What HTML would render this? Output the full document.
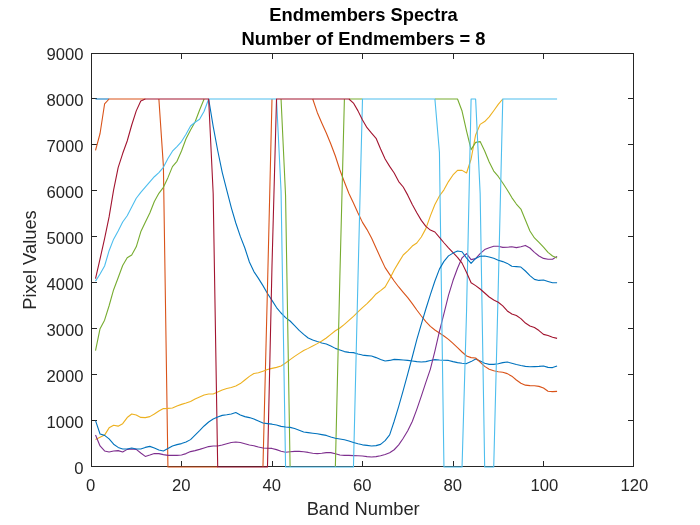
<!DOCTYPE html>
<html lang="en"><head><meta charset="utf-8"><title>Endmembers Spectra</title>
<style>html,body{margin:0;padding:0;background:#fff;overflow:hidden}svg{display:block;will-change:transform}</style>
</head><body>
<svg width="700" height="525" viewBox="0 0 700 525">
<rect x="0" y="0" width="700" height="525" fill="#ffffff"/>
<g fill="none" stroke="#262626" stroke-width="1" shape-rendering="crispEdges">
<rect x="91.5" y="53.5" width="542.0" height="413.0"/>
<path d="M91.5,466.5v-5.4M91.5,53.5v5.4M181.5,466.5v-5.4M181.5,53.5v5.4M272.5,466.5v-5.4M272.5,53.5v5.4M362.5,466.5v-5.4M362.5,53.5v5.4M453.5,466.5v-5.4M453.5,53.5v5.4M543.5,466.5v-5.4M543.5,53.5v5.4M633.5,466.5v-5.4M633.5,53.5v5.4M91.5,466.5h5.4M633.5,466.5h-5.4M91.5,420.5h5.4M633.5,420.5h-5.4M91.5,374.5h5.4M633.5,374.5h-5.4M91.5,328.5h5.4M633.5,328.5h-5.4M91.5,282.5h5.4M633.5,282.5h-5.4M91.5,236.5h5.4M633.5,236.5h-5.4M91.5,190.5h5.4M633.5,190.5h-5.4M91.5,144.5h5.4M633.5,144.5h-5.4M91.5,98.5h5.4M633.5,98.5h-5.4M91.5,53.5h5.4M633.5,53.5h-5.4"/>
</g>
<g fill="none" stroke-linejoin="round" stroke-linecap="butt" stroke-width="1.1">
<path stroke="#0072BD" d="M95.53,99.00L100.05,99.00L104.58,99.00L109.10,99.00M208.65,99.00L213.18,126.37L217.70,150.52L222.22,172.37L226.75,190.08L231.28,207.61L235.80,223.02L240.32,236.40L244.85,247.99L249.38,261.98L253.90,271.59L258.43,278.40L262.95,285.62L267.48,293.49L272.00,300.39L276.52,307.56L281.05,312.99L285.57,317.59L290.10,321.00L294.62,325.60L299.15,330.38L303.68,334.38L308.20,338.02L312.73,339.99L317.25,341.60L321.77,343.03L326.30,344.00L330.82,345.97L335.35,348.37L339.88,349.98L344.40,351.59L348.93,352.37L353.45,352.60L357.98,353.98L362.50,355.08L367.02,355.59L371.55,356.00L376.07,357.61L380.60,359.59L385.12,361.02L389.65,360.42L394.18,359.41L398.70,359.59L403.23,360.00L407.75,360.42L412.27,361.02L416.80,361.61L421.32,362.03L425.85,361.61L430.38,360.42L434.90,359.59L439.43,360.00L443.95,360.23L448.48,360.42L453.00,361.61L457.52,362.63L462.05,363.22L466.57,363.59L471.10,361.61L475.62,358.99L480.15,361.02L484.68,363.22L489.20,364.37L493.73,364.37L498.25,363.78L502.77,362.63L507.30,362.03L511.82,363.22L516.35,364.56L520.88,365.57L525.40,366.40L529.92,366.77L534.45,366.58L538.98,366.40L543.50,365.98L548.02,367.36L552.55,367.59L557.08,365.98"/>
<path stroke="#D95319" d="M95.53,150.43L100.05,133.50L104.58,103.97L109.10,99.00L113.62,99.00L118.15,99.00L122.67,99.00L127.20,99.00L131.72,99.00L136.25,99.00L140.78,99.00L145.30,99.00M158.88,99.00L163.40,166.16L167.93,467.00L172.45,467.00L176.97,467.00L181.50,467.00L186.03,467.00L190.55,467.00L195.07,467.00L199.60,467.00L204.12,467.00L208.65,467.00L213.18,467.00L217.70,467.00M262.95,467.00L267.48,287.51L272.00,99.00M312.73,99.00L317.25,112.43L321.77,123.01L326.30,133.04L330.82,143.99L335.35,155.99L339.88,170.02L344.40,181.98L348.93,193.44L353.45,203.01L357.98,212.99L362.50,222.37L367.02,229.59L371.55,238.01L376.07,247.99L380.60,257.98L385.12,267.64L389.65,274.40L394.18,281.02L398.70,286.96L403.23,292.38L407.75,297.63L412.27,303.61L416.80,310.00L421.32,315.98L425.85,321.59L430.38,326.38L434.90,329.97L439.43,333.00L443.95,335.99L448.48,339.40L453.00,343.40L457.52,347.58L462.05,352.00L466.57,356.00L471.10,357.61L475.62,358.03L480.15,362.03L484.68,366.40L489.20,369.20L493.73,370.81L498.25,371.78L502.77,372.19L507.30,373.62L511.82,376.20L516.35,380.01L520.88,383.19L525.40,385.17L529.92,385.58L534.45,385.76L538.98,386.36L543.50,387.97L548.02,391.19L552.55,391.61L557.08,391.38"/>
<path stroke="#EDB120" d="M95.53,439.40L100.05,437.28L104.58,435.12L109.10,427.85L113.62,425.28L118.15,426.15L122.67,423.67L127.20,417.55L131.72,414.01L136.25,415.02L140.78,417.41L145.30,417.60L149.82,416.63L154.35,414.01L158.88,411.02L163.40,408.58L167.93,408.40L172.45,407.98L176.97,406.00L181.50,404.39L186.03,402.97L190.55,401.40L195.07,399.01L199.60,396.99L204.12,395.01L208.65,394.00L213.18,394.00L217.70,392.02L222.22,390.00L226.75,388.48L231.28,387.56L235.80,385.99L240.32,383.56L244.85,380.01L249.38,376.38L253.90,373.57L258.43,372.79L262.95,371.18L267.48,369.57L272.00,368.38L276.52,367.36L281.05,365.98L285.57,362.99L290.10,359.59L294.62,356.37L299.15,353.38L303.68,350.57L308.20,348.37L312.73,345.97L317.25,343.63L321.77,341.01L326.30,338.02L330.82,334.38L335.35,330.79L339.88,327.99L344.40,324.40L348.93,320.40L353.45,316.40L357.98,311.98L362.50,307.56L367.02,303.61L371.55,299.01L376.07,293.99L380.60,290.59L385.12,286.96L389.65,279.00L394.18,269.98L398.70,262.39L403.23,254.99L407.75,250.80L412.27,246.02L416.80,242.98L421.32,237.00L425.85,228.63L430.38,215.84L434.90,204.57L439.43,195.97L443.95,189.80L448.48,181.57L453.00,174.95L457.52,170.39L462.05,170.39L466.57,172.97L471.10,158.98L475.62,134.97L480.15,124.35L484.68,121.59L489.20,116.85L493.73,110.73L498.25,104.43L502.77,99.00"/>
<path stroke="#7E2F8E" d="M95.53,435.03L100.05,445.98L104.58,450.99L109.10,452.00L113.62,450.99L118.15,450.62L122.67,452.00L127.20,449.38L131.72,449.01L136.25,449.38L140.78,453.02L145.30,456.42L149.82,454.99L154.35,453.43L158.88,453.61L163.40,454.63L167.93,455.41L172.45,455.41L176.97,455.41L181.50,454.99L186.03,453.61L190.55,451.59L195.07,450.62L199.60,449.38L204.12,448.00L208.65,446.58L213.18,445.98L217.70,445.98L222.22,445.01L226.75,443.77L231.28,442.57L235.80,441.98L240.32,442.57L244.85,443.77L249.38,445.01L253.90,445.79L258.43,446.99L262.95,448.00L267.48,448.19L272.00,448.42L276.52,449.61L281.05,451.22L285.57,452.19L290.10,451.82L294.62,451.41L299.15,451.41L303.68,451.82L308.20,452.42L312.73,453.20L317.25,453.61L321.77,453.20L326.30,452.60L330.82,452.60L335.35,453.80L339.88,454.99L344.40,455.41L348.93,455.41L353.45,455.59L357.98,455.82L362.50,456.01L367.02,456.60L371.55,457.02L376.07,456.60L380.60,455.82L385.12,454.40L389.65,452.69L394.18,449.75L398.70,444.92L403.23,438.25L407.75,430.66L412.27,421.46L416.80,409.32L421.32,396.16L425.85,382.45L430.38,369.11L434.90,351.13L439.43,331.30L443.95,313.73L448.48,295.42L453.00,280.56L457.52,268.23L462.05,257.79L466.57,253.56L471.10,259.63L475.62,258.62L480.15,253.56L484.68,249.56L489.20,247.72L493.73,246.25L498.25,246.25L502.77,247.40L507.30,247.21L511.82,246.80L516.35,247.63L520.88,246.80L525.40,245.42L529.92,247.99L534.45,252.36L538.98,256.00L543.50,258.39L548.02,259.22L552.55,259.22L557.08,256.37"/>
<path stroke="#77AC30" d="M95.53,350.57L100.05,328.72L104.58,320.17L109.10,305.77L113.62,289.72L118.15,277.71L122.67,265.52L127.20,257.84L131.72,254.99L136.25,246.84L140.78,231.85L145.30,222.28L149.82,212.99L154.35,201.44L158.88,193.30L163.40,187.32L167.93,177.66L172.45,166.62L176.97,161.33L181.50,150.98L186.03,138.79L190.55,130.05L195.07,122.00L199.60,110.04L204.12,99.00M281.05,99.00L285.57,195.74L290.10,467.00M335.35,467.00L339.88,276.51L344.40,99.00M348.93,99.00L353.45,99.00L357.98,99.00L362.50,99.00M434.90,99.00L439.43,99.00L443.95,99.00L448.48,99.00L453.00,99.00L457.52,99.00L462.05,111.01L466.57,131.02L471.10,149.60L475.62,142.38L480.15,141.60L484.68,151.03L489.20,161.97L493.73,171.04L498.25,176.46L502.77,183.00L507.30,189.99L511.82,197.58L516.35,204.02L520.88,209.03L525.40,219.98L529.92,230.97L534.45,237.97L538.98,242.38L543.50,247.03L548.02,252.36L552.55,256.00L557.08,257.98"/>
<path stroke="#4DBEEE" d="M95.53,281.11L100.05,274.03L104.58,265.98L109.10,250.71L113.62,239.16L118.15,231.02L122.67,222.00L127.20,215.75L131.72,207.01L136.25,198.27L140.78,192.38L145.30,187.09L149.82,181.80L154.35,176.74L158.88,172.60L163.40,167.31L167.93,158.57L172.45,151.21L176.97,146.61L181.50,141.55L186.03,134.33L190.55,126.00L195.07,122.23L199.60,119.24L204.12,111.19L208.65,99.00L213.18,99.00L217.70,99.00L222.22,99.00L226.75,99.00L231.28,99.00L235.80,99.00L240.32,99.00L244.85,99.00L249.38,99.00L253.90,99.00L258.43,99.00L262.95,99.00L267.48,99.00L272.00,99.00L276.52,99.00L281.05,191.18L285.57,467.00L290.10,467.00L294.62,467.00L299.15,467.00L303.68,467.00L308.20,467.00L312.73,467.00L317.25,467.00L321.77,467.00L326.30,467.00L330.82,467.00L335.35,467.00L339.88,467.00L344.40,467.00L348.93,467.00L353.45,467.00L357.98,278.35L362.50,99.00L367.02,99.00L371.55,99.00L376.07,99.00L380.60,99.00L385.12,99.00L389.65,99.00L394.18,99.00L398.70,99.00L403.23,99.00L407.75,99.00L412.27,99.00L416.80,99.00L421.32,99.00L425.85,99.00L430.38,99.00L434.90,99.00L439.43,152.18L443.95,467.00L448.48,467.00L453.00,467.00L457.52,467.00L462.05,467.00L466.57,310.46L471.10,99.00L475.62,99.00L480.15,193.44L484.68,467.00L489.20,467.00L493.73,467.00L498.25,287.51L502.77,99.00L507.30,99.00L511.82,99.00L516.35,99.00L520.88,99.00L525.40,99.00L529.92,99.00L534.45,99.00L538.98,99.00L543.50,99.00L548.02,99.00L552.55,99.00L557.08,99.00"/>
<path stroke="#A2142F" d="M95.53,278.58L100.05,258.90L104.58,238.70L109.10,216.90L113.62,189.90L118.15,167.59L122.67,153.56L127.20,141.00L131.72,124.99L136.25,110.87L140.78,100.98L145.30,99.00L149.82,99.00L154.35,99.00L158.88,99.00L163.40,99.00L167.93,99.00L172.45,99.00L176.97,99.00L181.50,99.00L186.03,99.00L190.55,99.00L195.07,99.00L199.60,99.00L204.12,99.00L208.65,99.00L213.18,193.44L217.70,467.00L222.22,467.00L226.75,467.00L231.28,467.00L235.80,467.00L240.32,467.00L244.85,467.00L249.38,467.00L253.90,467.00L258.43,467.00L262.95,467.00L267.48,467.00L272.00,265.52L276.52,99.00L281.05,99.00L285.57,99.00L290.10,99.00L294.62,99.00L299.15,99.00L303.68,99.00L308.20,99.00L312.73,99.00L317.25,99.00L321.77,99.00L326.30,99.00L330.82,99.00L335.35,99.00L339.88,99.00L344.40,99.00L348.93,99.00L353.45,103.09L357.98,110.87L362.50,120.02L367.02,127.66L371.55,133.13L376.07,138.28L380.60,149.00L385.12,158.98L389.65,166.39L394.18,172.97L398.70,181.57L403.23,187.00L407.75,195.14L412.27,204.39L416.80,212.71L421.32,220.39L425.85,226.42L430.38,230.10L434.90,231.99L439.43,237.37L443.95,242.75L448.48,247.81L453.00,252.55L457.52,257.29L462.05,263.13L466.57,272.51L471.10,282.72L475.62,285.62L480.15,288.98L484.68,292.98L489.20,296.98L493.73,300.02L498.25,302.23L502.77,305.95L507.30,310.97L511.82,314.00L516.35,315.57L520.88,318.60L525.40,323.02L529.92,325.96L534.45,327.57L538.98,330.56L543.50,334.38L548.02,335.58L552.55,337.19L557.08,338.38"/>
<path stroke="#0072BD" d="M95.53,420.63L100.05,434.02L104.58,435.40L109.10,438.94L113.62,444.23L118.15,447.40L122.67,449.01L127.20,449.01L131.72,448.00L136.25,449.01L140.78,449.01L145.30,447.40L149.82,446.39L154.35,448.00L158.88,449.98L163.40,450.99L167.93,448.60L172.45,445.98L176.97,444.60L181.50,443.59L186.03,441.98L190.55,439.63L195.07,435.03L199.60,430.61L204.12,425.97L208.65,421.97L213.18,419.02L217.70,417.00L222.22,415.39L226.75,414.79L231.28,414.01L235.80,412.58L240.32,415.02L244.85,416.63L249.38,417.60L253.90,419.02L258.43,421.00L262.95,422.98L267.48,423.58L272.00,424.17L276.52,425.00L281.05,426.38L285.57,426.98L290.10,427.39L294.62,428.59L299.15,430.20L303.68,431.99L308.20,432.59L312.73,433.19L317.25,433.79L321.77,434.62L326.30,435.40L330.82,437.01L335.35,438.20L339.88,439.03L344.40,439.77L348.93,440.96L353.45,442.57L357.98,443.77L362.50,444.83L367.02,445.38L371.55,445.98L376.07,445.61L380.60,444.37L385.12,440.60L389.65,434.80L394.18,421.28L398.70,406.42L403.23,390.41L407.75,373.90L412.27,357.01L416.80,339.63L421.32,324.03L425.85,308.99L430.38,294.64L434.90,281.02L439.43,269.15L443.95,261.38L448.48,255.86L453.00,253.10L457.52,250.98L462.05,251.72L466.57,258.11L471.10,263.45L475.62,258.39L480.15,256.18L484.68,256.00L489.20,256.92L493.73,258.34L498.25,260.23L502.77,261.61L507.30,263.40L511.82,266.21L516.35,266.62L520.88,267.04L525.40,270.99L529.92,275.59L534.45,279.41L538.98,280.42L543.50,280.01L548.02,281.44L552.55,282.82L557.08,282.82"/>
</g>
<g font-family="'Liberation Sans', Arial, Helvetica, sans-serif" font-size="16.67" fill="#262626">
<text x="90.6" y="490.9" text-anchor="middle">0</text>
<text x="181.2" y="490.9" text-anchor="middle">20</text>
<text x="271.7" y="490.9" text-anchor="middle">40</text>
<text x="362.2" y="490.9" text-anchor="middle">60</text>
<text x="452.7" y="490.9" text-anchor="middle">80</text>
<text x="544.4" y="490.9" text-anchor="middle">100</text>
<text x="634.5" y="490.9" text-anchor="middle">120</text>
<text x="83.6" y="473.6" text-anchor="end">0</text>
<text x="83.6" y="427.6" text-anchor="end">1000</text>
<text x="83.6" y="381.6" text-anchor="end">2000</text>
<text x="83.6" y="335.6" text-anchor="end">3000</text>
<text x="83.6" y="289.6" text-anchor="end">4000</text>
<text x="83.6" y="243.6" text-anchor="end">5000</text>
<text x="83.6" y="197.6" text-anchor="end">6000</text>
<text x="83.6" y="151.6" text-anchor="end">7000</text>
<text x="83.6" y="105.6" text-anchor="end">8000</text>
<text x="83.6" y="59.6" text-anchor="end">9000</text>
</g>
<text font-family="'Liberation Sans', Arial, Helvetica, sans-serif" font-size="18.33" fill="#262626" x="363.2" y="514.8" text-anchor="middle">Band Number</text>
<text font-family="'Liberation Sans', Arial, Helvetica, sans-serif" font-size="18.33" fill="#262626" transform="translate(35.9,260) rotate(-90)" text-anchor="middle">Pixel Values</text>
<text font-family="'Liberation Sans', Arial, Helvetica, sans-serif" font-size="18.33" font-weight="bold" fill="#000000" x="363.5" y="20.7" text-anchor="middle">Endmembers Spectra</text>
<text font-family="'Liberation Sans', Arial, Helvetica, sans-serif" font-size="18.33" font-weight="bold" fill="#000000" x="363.5" y="44.5" text-anchor="middle">Number of Endmembers = 8</text>
</svg>
</body></html>
